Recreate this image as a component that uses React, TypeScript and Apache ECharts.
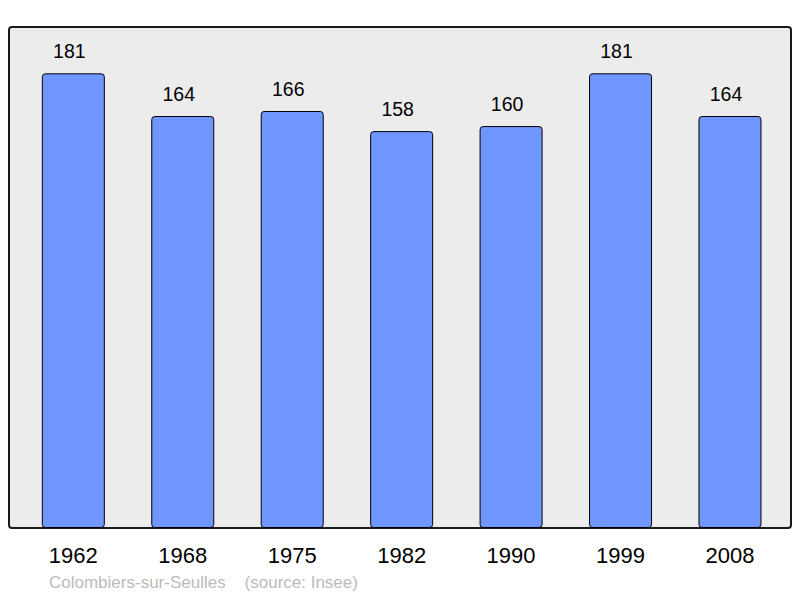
import React, { useEffect, useRef } from "react";
import * as echarts from "echarts";

const years = ["1962", "1968", "1975", "1982", "1990", "1999", "2008"];
const population = [181, 164, 166, 158, 160, 181, 164];
const caption = "Colombiers-sur-Seulles    (source: Insee)";

export default function App() {
  const ref = useRef<HTMLDivElement>(null);
  useEffect(() => {
    const chart = echarts.init(ref.current!, undefined, { renderer: "svg" });
    chart.setOption({
      animation: false,
      graphic: [
        {
          type: "rect",
          z: -10,
          shape: { x: 9, y: 27, width: 782, height: 501, r: 3 },
          style: { fill: "#ececec", stroke: "#1a1a1a", lineWidth: 2 },
          silent: true,
        },
        {
          type: "text",
          left: 49,
          top: 574,
          style: {
            text: caption,
            fill: "#bbbbbb",
            font: '17px "Liberation Sans", Arial, sans-serif',
          },
        },
      ],
      grid: { left: 18.6, right: 15.3, top: 25.6, bottom: 70 },
      xAxis: {
        type: "category",
        data: years,
        axisLine: { show: false },
        axisTick: { show: false },
        axisLabel: {
          color: "#000",
          fontSize: 22,
          fontFamily: '"Liberation Sans", Arial, sans-serif',
          margin: 16,
        },
      },
      yAxis: {
        type: "value",
        min: 0,
        max: 200,
        show: false,
        splitLine: { show: false },
      },
      series: [
        {
          type: "bar",
          data: population,
          barWidth: 63,
          itemStyle: {
            color: "#7096ff",
            borderColor: "#000",
            borderWidth: 1,
            borderRadius: 3,
          },
          label: {
            show: true,
            position: "top",
            distance: 12,
            offset: [-4, 0],
            color: "#000",
            fontSize: 19.5,
            fontFamily: '"Liberation Sans", Arial, sans-serif',
          },
        },
      ],
    });
    return () => chart.dispose();
  }, []);
  return <div ref={ref} style={{ width: 800, height: 598, position: "absolute", left: 0, top: 0 }} />;
}
